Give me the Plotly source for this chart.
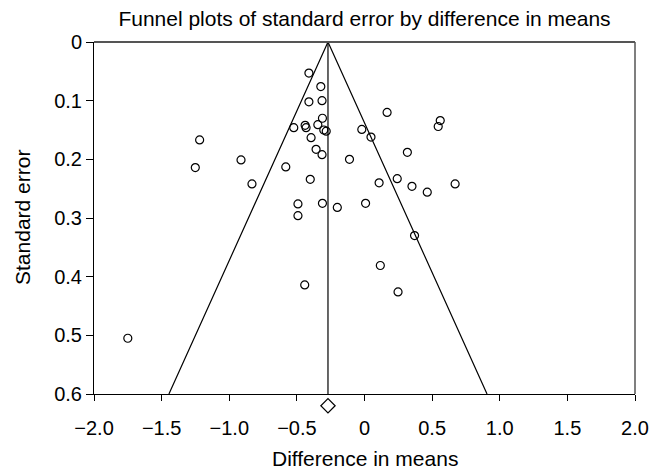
import plotly.graph_objects as go

# Study-level data (difference in means, standard error)
diff_means = [-0.411, -0.323, -0.411, -0.314, 0.167, 0.560, 0.545, -0.311, -0.523, -0.439,
              -0.432, -0.345, -0.301, -0.283, -0.020, 0.048, -1.219, -0.395, -0.358, -0.314,
              0.317, -0.913, -0.111, -1.251, -0.582, -0.401, 0.242, -0.832, 0.108, 0.351,
              0.464, 0.670, -0.492, -0.311, 0.008, -0.201, -0.492, 0.370, 0.117, -0.442,
              0.248, -1.750]
std_error = [0.053, 0.076, 0.102, 0.100, 0.120, 0.134, 0.144, 0.130, 0.146, 0.142,
             0.146, 0.141, 0.150, 0.152, 0.149, 0.162, 0.167, 0.163, 0.183, 0.192,
             0.188, 0.201, 0.200, 0.214, 0.213, 0.234, 0.233, 0.242, 0.240, 0.246,
             0.256, 0.242, 0.276, 0.275, 0.275, 0.282, 0.296, 0.330, 0.381, 0.414,
             0.426, 0.505]

pooled_effect = -0.27
z_value = 1.96
se_max = 0.6
diamond_se = 0.62

x_ticks = [-2.0, -1.5, -1.0, -0.5, 0, 0.5, 1.0, 1.5, 2.0]
x_tick_labels = ["\u22122.0", "\u22121.5", "\u22121.0", "\u22120.5", "0", "0.5", "1.0", "1.5", "2.0"]
y_ticks = [0, 0.1, 0.2, 0.3, 0.4, 0.5, 0.6]
y_tick_labels = ["0", "0.1", "0.2", "0.3", "0.4", "0.5", "0.6"]

FONT = "Liberation Sans, Arial, sans-serif"

# layout geometry (pixels)
W, H = 662, 470
plot_left, plot_right = 94, 635
plot_top, plot_bottom = 42, 394
extra = 24  # strip below the x axis line for the pooled diamond
main_h = plot_bottom - plot_top
paper_h = main_h + extra
paper_w = plot_right - plot_left
d = extra / paper_h
se_per_px = se_max / main_h

fig = go.Figure()

# Funnel boundaries
fig.add_trace(go.Scatter(
    x=[pooled_effect - z_value * se_max, pooled_effect, pooled_effect + z_value * se_max],
    y=[se_max, 0, se_max],
    mode="lines", line=dict(color="black", width=1.2),
    hoverinfo="skip", showlegend=False))
# Pooled effect vertical line
fig.add_trace(go.Scatter(
    x=[pooled_effect, pooled_effect], y=[0, se_max],
    mode="lines", line=dict(color="black", width=1.2),
    hoverinfo="skip", showlegend=False))
# Studies
fig.add_trace(go.Scatter(
    x=diff_means, y=std_error, mode="markers",
    marker=dict(symbol="circle-open", size=8, color="black", line=dict(width=1.2)),
    showlegend=False))
# Pooled diamond (in a strip below the axis that continues the same scale)
fig.add_trace(go.Scatter(
    x=[pooled_effect], y=[diamond_se], mode="markers", yaxis="y2",
    marker=dict(symbol="diamond-open", size=11, color="black", line=dict(width=1.2)),
    cliponaxis=False, showlegend=False))

fig.update_layout(
    width=W, height=H,
    margin=dict(l=plot_left, r=W - plot_right, t=plot_top, b=H - plot_bottom - extra),
    plot_bgcolor="white", paper_bgcolor="white",
    font=dict(family=FONT, color="black"),
    title=dict(text="Funnel plots of standard error by difference in means",
               x=0.5, xref="paper", xanchor="center",
               y=1 - 19 / H, yref="container", yanchor="middle",
               font=dict(size=21, family=FONT, color="black")),
    xaxis=dict(range=[-2, 2], tickvals=x_ticks, ticktext=x_tick_labels, anchor="y",
               showgrid=False, zeroline=False, showline=True, linecolor="black", linewidth=1,
               ticks="outside", ticklen=6, tickcolor="black",
               tickfont=dict(size=20, family=FONT), ticklabelstandoff=10),
    yaxis=dict(range=[se_max, 0], domain=[d, 1], tickvals=y_ticks, ticktext=y_tick_labels,
               anchor="x",
               showgrid=False, zeroline=False, showline=True, linecolor="black", linewidth=1,
               ticks="outside", ticklen=7, tickcolor="black",
               tickfont=dict(size=20, family=FONT)),
    yaxis2=dict(range=[se_max + extra * se_per_px, se_max], domain=[0, d], anchor="x",
                visible=False, showgrid=False, zeroline=False),
    annotations=[
        dict(text="Difference in means", xref="paper", yref="paper",
             x=0.5, y=-(458 - (plot_bottom + extra)) / paper_h,
             xanchor="center", yanchor="middle", showarrow=False,
             font=dict(size=21, family=FONT)),
        dict(text="Standard error", xref="paper", yref="paper",
             x=-(plot_left - 22) / paper_w, y=d + (1 - d) / 2,
             xanchor="center", yanchor="middle", textangle=-90, showarrow=False,
             font=dict(size=21, family=FONT)),
    ],
    shapes=[
        dict(type="line", xref="paper", yref="paper", x0=0, x1=1, y0=1, y1=1,
             line=dict(color="#555555", width=2)),
        dict(type="line", xref="paper", yref="paper", x0=1, x1=1, y0=d, y1=1,
             line=dict(color="#555555", width=1.5)),
    ],
)

fig.write_html("out.html")
